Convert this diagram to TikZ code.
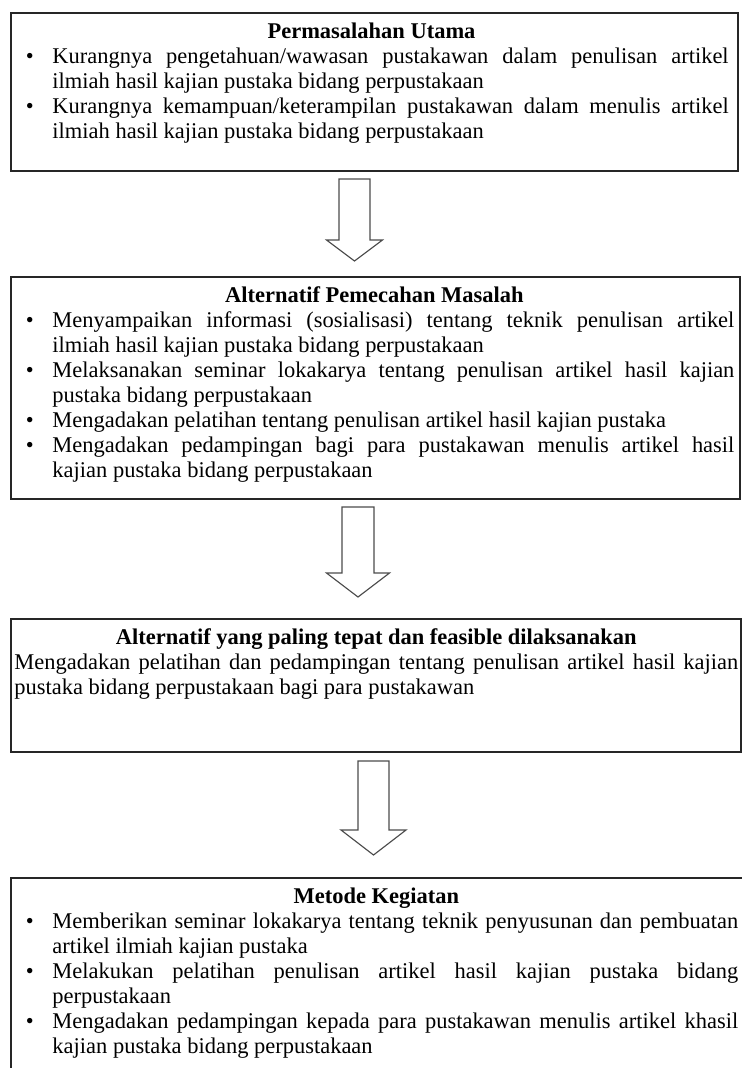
\documentclass[tikz,border=0pt]{standalone}
\usepackage{fontspec}
\setmainfont{Liberation Serif}
\usetikzlibrary{calc}
\tikzset{
  panel/.style    = {draw=black!85, line width=1pt},
  paneltext/.style = {anchor=north west, inner sep=0pt, text width=380pt,
                      align=justify, font={\fontsize{11.8pt}{13.1pt}\selectfont}},
  blockar/.style  = {draw=black!70, line width=0.6pt, fill=white, line join=miter}
}
\newcommand{\bul}[1]{\par\noindent\hangindent=20pt\hangafter=1%
  \makebox[20pt][l]{\hspace{6pt}\textbullet}#1\par}
\newcommand{\heading}[1]{{\centering\bfseries #1\par}}

\begin{document}
\begin{tikzpicture}[x=0.525pt, y=-0.525pt]
  \useasboundingbox (0,0) rectangle (742,1068);
  \clip (0,0) rectangle (742,1068);
  % frames
  \draw[panel] (11,13) rectangle (738,171);
  \draw[panel] (11,277) rectangle (740,499);
  \draw[panel] (11,619) rectangle (741,752);
  \draw[panel] (11,878) rectangle (750,1080);
  % texts
  \node[paneltext, text width=375pt] (masalah) at (14,22.5) {\heading{Permasalahan Utama}
    \bul{Kurangnya pengetahuan/wawasan pustakawan dalam penulisan artikel\linebreak
      ilmiah hasil kajian pustaka bidang perpustakaan}
    \bul{Kurangnya kemampuan/keterampilan pustakawan dalam menulis artikel\linebreak
      ilmiah hasil kajian pustaka bidang perpustakaan}};
  \node[paneltext, text width=378pt] (alternatif) at (14,286.5) {\heading{Alternatif Pemecahan Masalah}
    \bul{Menyampaikan informasi (sosialisasi) tentang teknik penulisan artikel\linebreak
      ilmiah hasil kajian pustaka bidang perpustakaan}
    \bul{Melaksanakan seminar lokakarya tentang penulisan artikel hasil kajian\linebreak
      pustaka bidang perpustakaan}
    \bul{Mengadakan pelatihan tentang penulisan artikel hasil kajian pustaka}
    \bul{Mengadakan pedampingan bagi para pustakawan menulis artikel hasil\linebreak
      kajian pustaka bidang perpustakaan}};
  \node[paneltext] (tepat) at (14,628.5) {\heading{Alternatif yang paling tepat dan feasible dilaksanakan}
    \noindent Mengadakan pelatihan dan pedampingan tentang penulisan artikel hasil kajian\linebreak
    pustaka bidang perpustakaan bagi para pustakawan\par};
  \node[paneltext] (metode) at (14,887.5) {\heading{Metode Kegiatan}
    \bul{Memberikan seminar lokakarya tentang teknik penyusunan dan pembuatan\linebreak
      artikel ilmiah kajian pustaka}
    \bul{Melakukan pelatihan penulisan artikel hasil kajian pustaka bidang\linebreak
      perpustakaan}
    \bul{Mengadakan pedampingan kepada para pustakawan menulis artikel khasil\linebreak
      kajian pustaka bidang perpustakaan}};
  % block arrows
  \foreach \i/\cx/\ty/\wy/\tp/\sw/\hw in {1/354.5/179/240/261/15.5/28,
      2/358/507/573/597/16/31.5, 3/373.5/761/830/855/15.5/32.5}{
    \coordinate (top\i) at (\cx,\ty);
    \coordinate (tip\i) at (\cx,\tp);
    \draw[blockar] ($(top\i)+(-\sw,0)$) -- (\cx-\sw,\wy) -- (\cx-\hw,\wy)
      -- (tip\i) -- (\cx+\hw,\wy) -- (\cx+\sw,\wy) -- ($(top\i)+(\sw,0)$) -- cycle;
  }
\end{tikzpicture}
\end{document}
